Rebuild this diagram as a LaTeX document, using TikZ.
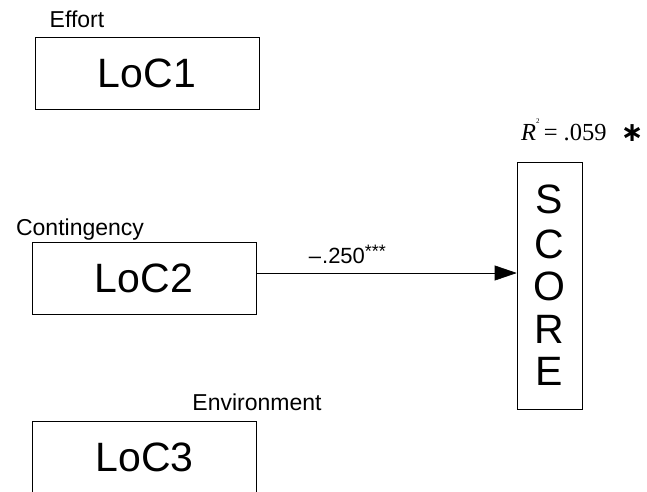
\documentclass[tikz,border=0pt]{standalone}
\usepackage{fontspec}
\setmainfont{Liberation Sans}
\newfontfamily\rsqfont{Liberation Serif}
\newfontfamily\astfont{DejaVu Sans}
\usetikzlibrary{positioning}
\usetikzlibrary{arrows.meta}
\tikzstyle{every loc} = []
\tikzstyle{loc} = [draw, line width=0.6pt, minimum width=224pt, minimum height=72pt, font=\fontsize{41}{41}\selectfont, every loc]
\tikzstyle{lbl} = [anchor=base, inner sep=0pt, font=\fontsize{23}{23}\selectfont]
\tikzstyle{path} = [>={Triangle[length=22pt, width=15pt]}, draw, line width=0.6pt]

\begin{document}
\begin{tikzpicture}[x=1pt, y=-1pt]
                    \useasboundingbox (0,0) rectangle (647,491);
                    \node[loc] (loc1) at (147,73.5) {LoC1};
                    \node[loc] (loc2) at (144,278.5) {LoC2};
                    \node[loc] (loc3) at (144.5,457) {LoC3};

                    \node[lbl] (effort) at (77,27) {Effort};
                    \node[lbl] (contingency) at (80,235) {Contingency};
                    \node[lbl] (environment) at (257,410) {Environment};

                    \node[draw, line width=0.6pt, minimum width=65pt, minimum height=247pt, align=center,
                          font=\fontsize{41}{42.5}\selectfont] (score) at (549.5,285.5) {\raisebox{2pt}{S}\\C\\O\\R\\E};
                    \node[anchor=base west, inner sep=0pt, font=\rsqfont\fontsize{24.5}{24.5}\selectfont] (rsq) at (521,140)
                        {\textit{R}\raisebox{1.5ex}{\fontsize{7}{7}\selectfont 2}\,= .059\enspace\kern2pt\raisebox{-1pt}{\astfont\bfseries\fontsize{27}{27}\selectfont ∗}};

                    \draw[path, ->] (loc2.east |- 0,273) -- (score.west |- 0,273)
                        node[pos=0.35, anchor=base, yshift=10pt, font=\fontsize{22}{22}\selectfont] (coef)
                        {--\kern1pt.250\raisebox{6pt}{\fontsize{18}{18}\selectfont ***}};
                \end{tikzpicture}
\end{document}
